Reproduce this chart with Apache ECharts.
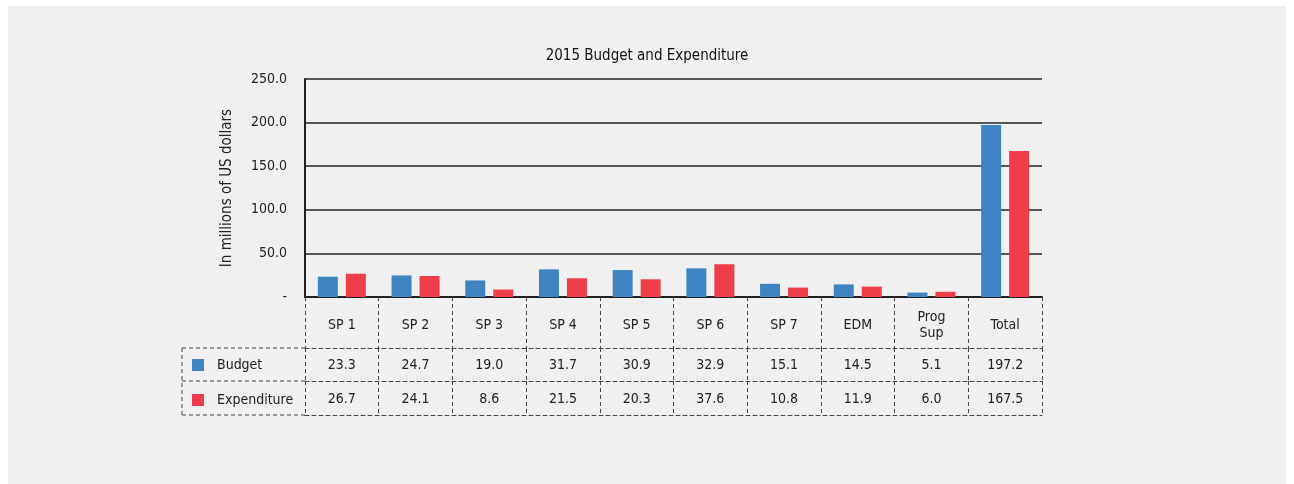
<!DOCTYPE html>
<html>
<head>
<meta charset="utf-8">
<title>2015 Budget and Expenditure</title>
<style>
  html, body { margin: 0; padding: 0; background: #ffffff; }
  #main { width: 1294px; height: 484px; }
</style>
</head>
<body>
<div id="main"></div>
<script src="https://cdn.jsdelivr.net/npm/echarts@6/dist/echarts.min.js"></script>
<script type="text/javascript">
// 数据
var categories = ['SP 1', 'SP 2', 'SP 3', 'SP 4', 'SP 5', 'SP 6', 'SP 7', 'EDM', 'Prog\nSup', 'Total'];
var budget = [23.3, 24.7, 19.0, 31.7, 30.9, 32.9, 15.1, 14.5, 5.1, 197.2];
var expenditure = [26.7, 24.1, 8.6, 21.5, 20.3, 37.6, 10.8, 11.9, 6.0, 167.5];
var yTicks = [0, 50, 100, 150, 200, 250];

var FONT = '"Liberation Sans Narrow", "DejaVu Sans Condensed", "Roboto", sans-serif';
var BLUE = '#3f84c0';
var RED = '#ef3e4a';
var LINE = '#444444';

// 表格位置（像素）
var gLeft = 305, gRight = 1042, gTop = 79, gBottom = 297;
var rowHead = 51, rowB = 33, rowE = 34;
var tableLeft = 182;

var chart = echarts.init(document.getElementById('main'), null, { renderer: 'canvas' });

function fmt(v) { return v.toFixed(1); }

var dashed = { color: LINE, width: 1, type: [4, 3] };

var option = {
  animation: false,
  backgroundColor: '#ffffff',
  textStyle: { fontFamily: FONT },
  title: {
    text: '2015 Budget and Expenditure',
    left: 'center',
    top: 44,
    textStyle: { fontFamily: FONT, fontSize: 15, fontWeight: 'normal', color: '#111' }
  },
  legend: {
    orient: 'vertical',
    left: 187,
    top: gBottom + rowHead + 5,
    itemWidth: 12,
    itemHeight: 12,
    itemGap: 21,
    icon: 'rect',
    data: ['Budget', 'Expenditure'],
    textStyle: { fontFamily: FONT, fontSize: 14, color: '#222', padding: [0, 0, 0, 8] }
  },
  grid: {
    left: gLeft,
    right: 1294 - gRight,
    top: gTop,
    bottom: 484 - gBottom,
    containLabel: false,
    outerBoundsMode: 'none'
  },
  graphic: [
    { type: 'rect', z: -10, shape: { x: 8, y: 6, width: 1278, height: 478 }, style: { fill: '#f0f0f0' } },
    // 左侧图例列的虚线
    { type: 'line', shape: { x1: tableLeft, y1: gBottom + rowHead, x2: gLeft, y2: gBottom + rowHead }, style: { stroke: LINE, lineWidth: 1, lineDash: [4, 3] } },
    { type: 'line', shape: { x1: tableLeft, y1: gBottom + rowHead + rowB, x2: gLeft, y2: gBottom + rowHead + rowB }, style: { stroke: LINE, lineWidth: 1, lineDash: [4, 3] } },
    { type: 'line', shape: { x1: tableLeft, y1: gBottom + rowHead + rowB + rowE, x2: gLeft, y2: gBottom + rowHead + rowB + rowE }, style: { stroke: LINE, lineWidth: 1, lineDash: [4, 3] } },
    { type: 'line', shape: { x1: tableLeft, y1: gBottom + rowHead, x2: tableLeft, y2: gBottom + rowHead + rowB + rowE }, style: { stroke: LINE, lineWidth: 1, lineDash: [4, 3] } }
  ],
  xAxis: [
    {
      type: 'category',
      data: categories,
      position: 'bottom',
      axisLine: { onZero: false, lineStyle: { color: '#222', width: 2 } },
      axisTick: { show: true, length: rowHead, lineStyle: dashed },
      axisLabel: { margin: 28, verticalAlign: 'middle', lineHeight: 16, fontFamily: FONT, fontSize: 14, color: '#222', interval: 0 }
    },
    {
      type: 'category',
      data: budget.map(fmt),
      position: 'bottom',
      offset: rowHead,
      axisLine: { onZero: false, lineStyle: dashed },
      axisTick: { show: true, length: rowB, lineStyle: dashed },
      axisLabel: { margin: 17, verticalAlign: 'middle', fontFamily: FONT, fontSize: 14, color: '#222', interval: 0 }
    },
    {
      type: 'category',
      data: expenditure.map(fmt),
      position: 'bottom',
      offset: rowHead + rowB,
      axisLine: { onZero: false, lineStyle: dashed },
      axisTick: { show: true, length: rowE, lineStyle: dashed },
      axisLabel: { margin: 18, verticalAlign: 'middle', fontFamily: FONT, fontSize: 14, color: '#222', interval: 0 }
    },
    {
      type: 'category',
      data: categories,
      position: 'bottom',
      offset: rowHead + rowB + rowE,
      axisLine: { onZero: false, lineStyle: dashed },
      axisTick: { show: false },
      axisLabel: { show: false }
    }
  ],
  yAxis: {
    type: 'value',
    min: yTicks[0],
    max: yTicks[yTicks.length - 1],
    interval: 50,
    name: 'In millions of US dollars',
    nameLocation: 'middle',
    nameGap: 70,
    nameTextStyle: { fontFamily: FONT, fontSize: 15, color: '#222' },
    axisLine: { show: true, lineStyle: { color: '#222', width: 2 } },
    axisTick: { show: false },
    axisLabel: {
      margin: 18,
      fontFamily: FONT,
      fontSize: 14,
      color: '#222',
      formatter: function (v) { return v === 0 ? '-' : v.toFixed(1); }
    },
    splitLine: { show: true, lineStyle: { color: '#555', width: 2 } }
  },
  series: [
    {
      name: 'Budget',
      type: 'bar',
      data: budget,
      barWidth: 20,
      barGap: '40%',
      itemStyle: { color: BLUE }
    },
    {
      name: 'Expenditure',
      type: 'bar',
      data: expenditure,
      barWidth: 20,
      barGap: '40%',
      itemStyle: { color: RED }
    }
  ]
};

chart.setOption(option);
</script>
</body>
</html>
